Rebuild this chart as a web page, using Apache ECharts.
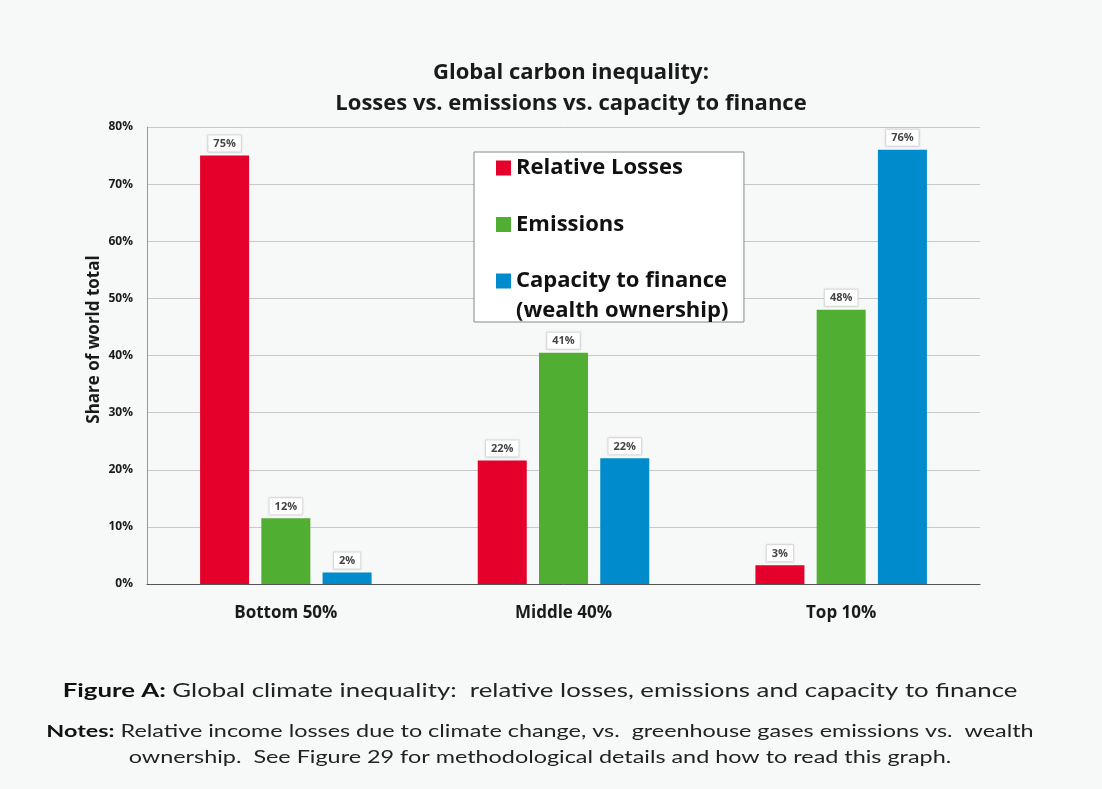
<!DOCTYPE html>
<html><head><meta charset="utf-8">
<script src="https://cdn.jsdelivr.net/npm/echarts@6/dist/echarts.min.js"></script>
<style>html,body{margin:0;padding:0;background:#f7f8f8}#c{width:1102px;height:789px}</style>
</head><body><div id="c"></div>
<script>
const categories = ['Bottom 50%', 'Middle 40%', 'Top 10%'];
const seriesNames = ['Relative Losses', 'Emissions', 'Capacity to finance (wealth ownership)'];
const relativeLosses = [75, 21.6, 3.3];
const emissions = [11.5, 40.5, 48];
const capacityToFinance = [2, 22, 76];
const yTicks = [0, 10, 20, 30, 40, 50, 60, 70, 80];

const chart = echarts.init(document.getElementById('c'), null, {renderer: 'canvas'});
const lbl = {
  show: true, position: 'top', distance: 4,
  formatter: p => Math.round(p.value) + '%',
  fontFamily: 'Open Sans', fontSize: 11, fontWeight: 'bold', color: '#444',
  backgroundColor: '#ffffff', borderColor: '#e2e2e2', borderWidth: 1,
  padding: [3, 5, 2, 5], shadowColor: 'rgba(0,0,0,0.12)', shadowBlur: 2
};
chart.setOption({
  backgroundColor: '#f7f8f8',
  animation: false,
  title: {
    text: 'Global carbon inequality:\nLosses vs. emissions vs. capacity to finance',
    left: 566, top: 52, textAlign: 'center',
    textStyle: {fontFamily: 'Open Sans', fontWeight: 'bold', fontSize: 22, lineHeight: 31, color: '#1a1a1a'}
  },
  legend: {
    orient: 'vertical', left: 474, top: 152,
    backgroundColor: '#ffffff', borderColor: '#888', borderWidth: 1,
    padding: [2, 17, 27, 22], itemGap: 28.5, itemWidth: 15, itemHeight: 15,
    icon: 'rect',
    data: seriesNames,
    formatter: name => name === seriesNames[2] ? 'Capacity to finance' : name,
    textStyle: {fontFamily: 'Open Sans', fontWeight: 'bold', fontSize: 22, color: '#111', lineHeight: 28}
  },
  grid: {left: 147, right: 122, top: 127, bottom: 205},
  xAxis: {
    type: 'category', data: categories,
    axisLine: {lineStyle: {color: '#555', width: 1}},
    axisTick: {show: false},
    axisLabel: {fontFamily: 'Open Sans', fontWeight: 'bold', fontSize: 17, color: '#1a1a1a', margin: 21}
  },
  yAxis: {
    type: 'value', min: 0, max: 80, interval: 10,
    name: 'Share of world total', nameLocation: 'middle', nameGap: 44, nameMoveOverlap: false,
    nameTextStyle: {fontFamily: 'Open Sans', fontWeight: 'bold', fontSize: 17, color: '#1a1a1a', padding: [0, 0, 0, 32]},
    axisLine: {show: true, lineStyle: {color: '#999', width: 1}},
    axisTick: {show: false},
    splitLine: {lineStyle: {color: '#c8c8c8', width: 1}},
    axisLabel: {fontFamily: 'Open Sans', fontWeight: 'bold', fontSize: 12, color: '#1a1a1a', margin: 14,
      formatter: v => yTicks.includes(v) ? v + '%' : ''}
  },
  series: [
    {name: seriesNames[0], type: 'bar', data: relativeLosses, barWidth: 49, barGap: '25%',
      itemStyle: {color: '#e4002b'}, label: lbl},
    {name: seriesNames[1], type: 'bar', data: emissions, barWidth: 49, barGap: '25%',
      itemStyle: {color: '#50ae33'}, label: lbl},
    {name: seriesNames[2], type: 'bar', data: capacityToFinance, barWidth: 49, barGap: '25%',
      itemStyle: {color: '#008bcc'}, label: lbl}
  ],
  graphic: [
    {type: 'text', x: 516, y: 311, z: 100, style: {
      text: '(wealth ownership)', fontFamily: 'Open Sans', fontWeight: 'bold', fontSize: 22,
      fill: '#111', align: 'left', verticalAlign: 'middle'}},
    {type: 'text', x: 540, y: 691, scaleX: 1.357, style: {
      text: '{b|Figure A:} Global climate inequality:  relative losses, emissions and capacity to finance',
      rich: {b: {fontFamily: 'Lato', fontWeight: 'bold', fontSize: 19, fill: '#111'}},
      fontFamily: 'Lato', fontSize: 19, fill: '#222', align: 'center', verticalAlign: 'middle'}},
    {type: 'text', x: 540, y: 745, scaleX: 1.375, style: {
      text: '{b|Notes:} Relative income losses due to climate change, vs.  greenhouse gases emissions vs.  wealth\nownership.  See Figure 29 for methodological details and how to read this graph.',
      rich: {b: {fontFamily: 'Lato', fontWeight: 'bold', fontSize: 17, fill: '#111', lineHeight: 26}},
      fontFamily: 'Lato', fontSize: 17, lineHeight: 26, fill: '#222', align: 'center', verticalAlign: 'middle'}}
  ]
});
</script></body></html>
